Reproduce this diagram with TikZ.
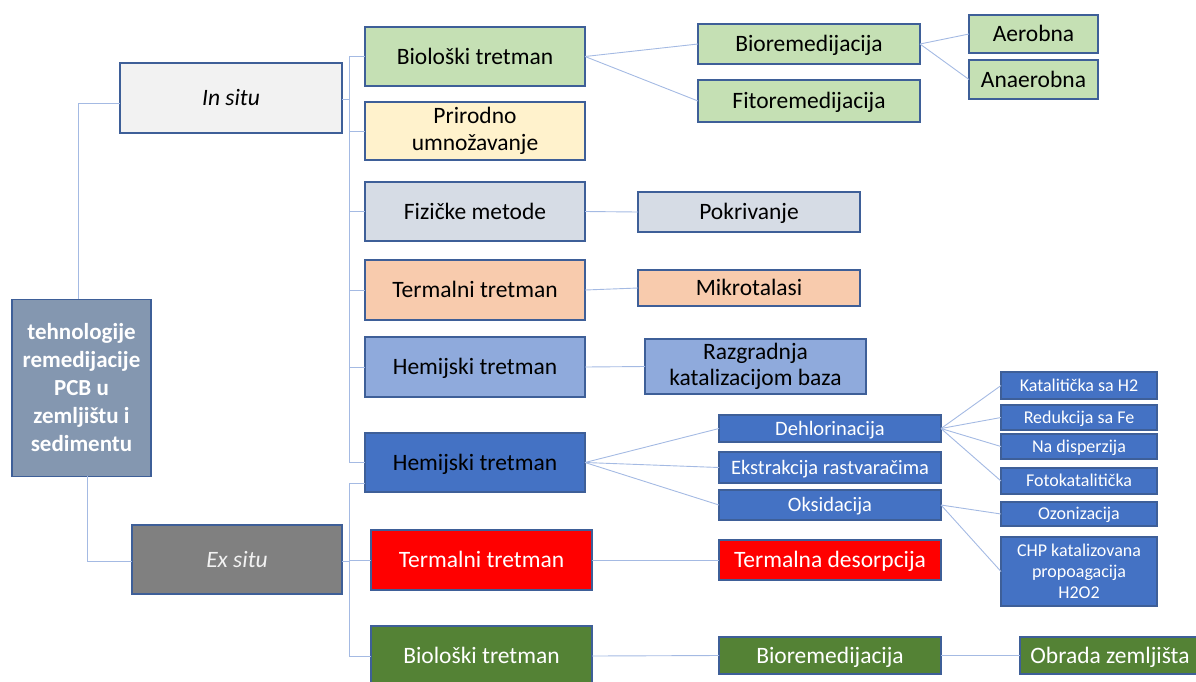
\documentclass[tikz,border=0pt]{standalone}
\usepackage{fontspec}
\setmainfont{Carlito}
\definecolor{rootfill}{HTML}{8497B0}
\definecolor{insitufill}{HTML}{F2F2F2}
\definecolor{exsitufill}{HTML}{808080}
\definecolor{lgreen}{HTML}{C5E0B4}
\definecolor{lyellow}{HTML}{FFF2CC}
\definecolor{greyblue}{HTML}{D6DCE5}
\definecolor{peach}{HTML}{F8CBAD}
\definecolor{lblue}{HTML}{8FAADC}
\definecolor{dblue}{HTML}{4472C4}
\definecolor{dgreen}{HTML}{548235}
\definecolor{bordercol}{HTML}{3E5F98}
\definecolor{linkcol}{HTML}{A4BAE3}
\tikzset{
  base/.style={draw=bordercol, line width=1.2pt, inner sep=0pt, outer sep=0pt, align=center,
              font=\fontsize{23.5}{27}\selectfont},
  box/.style={base, text height=15.5pt, text depth=0pt},
  multibox/.style={base, font=\fontsize{23.5}{26.5}\selectfont},
  midbox/.style={base, font=\fontsize{20.5}{24}\selectfont, text height=13.5pt, text depth=0pt},
  smallbox/.style={base, font=\fontsize{18}{21}\selectfont, text height=11.8pt, text depth=0pt, text=white, fill=dblue},
  smallmulti/.style={base, font=\fontsize{18}{21}\selectfont, text=white, fill=dblue},
  link/.style={draw=linkcol, line width=0.9pt},
}
\begin{document}
\begin{tikzpicture}[x=1pt,y=-1pt]
\useasboundingbox (0,0) rectangle (1196,681);
% level 0
\node[base, fill=rootfill, text=white, font=\bfseries\fontsize{23}{28}\selectfont, minimum width=139pt, minimum height=177pt] (root) at (81.5,388) {tehnologije\\remedijacije\\PCB u\\zemljištu i\\sedimentu};
% level 1
\node[box, fill=insitufill, font=\itshape\fontsize{23.5}{27}\selectfont, minimum width=222pt, minimum height=70pt] (insitu) at (231,98) {In situ};
\node[box, fill=exsitufill, text=insitufill, font=\itshape\fontsize{23.5}{27}\selectfont, minimum width=210pt, minimum height=69pt] (exsitu) at (237,559.5) {Ex situ};
% level 2
\node[box, fill=lgreen, minimum width=220pt, minimum height=59pt] (bio1) at (475,56.5) {Biološki tretman};
\node[multibox, fill=lyellow, minimum width=220pt, minimum height=58pt] (prir) at (475,131) {Prirodno\\umnožavanje};
\node[box, fill=greyblue, minimum width=220pt, minimum height=59pt] (fiz) at (475,211.5) {Fizičke metode};
\node[box, fill=peach, minimum width=220pt, minimum height=60pt] (term1) at (475,290) {Termalni tretman};
\node[box, fill=lblue, minimum width=220pt, minimum height=60pt] (hem1) at (475,367) {Hemijski tretman};
\node[box, fill=dblue, minimum width=220pt, minimum height=59pt] (hem2) at (475,462.5) {Hemijski tretman};
\node[box, fill=red, text=white, minimum width=221pt, minimum height=60pt] (term2) at (481.5,560) {Termalni tretman};
\node[box, fill=dgreen, text=white, minimum width=221pt, minimum height=60pt] (bio2) at (481.5,656) {Biološki tretman};
% level 3
\node[box, fill=lgreen, minimum width=222pt, minimum height=40pt] (biorem) at (809,44) {Bioremedijacija};
\node[box, fill=lgreen, minimum width=222pt, minimum height=42pt] (fitorem) at (809,101) {Fitoremedijacija};
\node[box, fill=lgreen, minimum width=129pt, minimum height=38pt] (aer) at (1033.5,34) {Aerobna};
\node[box, fill=lgreen, minimum width=129pt, minimum height=39pt] (anaer) at (1033.5,79.5) {Anaerobna};
\node[box, fill=greyblue, minimum width=222pt, minimum height=40pt] (pokr) at (749,212) {Pokrivanje};
\node[box, fill=peach, minimum width=222pt, minimum height=36pt] (mikro) at (749,288) {Mikrotalasi};
\node[multibox, fill=lblue, minimum width=221pt, minimum height=55pt] (razg) at (755.5,366.5) {Razgradnja\\katalizacijom baza};
\node[midbox, fill=dblue, text=white, minimum width=222pt, minimum height=27pt] (dehl) at (830,428.5) {Dehlorinacija};
\node[midbox, fill=dblue, text=white, minimum width=222pt, minimum height=31pt] (ekst) at (830,467.5) {Ekstrakcija rastvaračima};
\node[midbox, fill=dblue, text=white, minimum width=222pt, minimum height=30pt] (oksi) at (830,505) {Oksidacija};
\node[box, fill=red, text=white, minimum width=222pt, minimum height=40pt] (tdes) at (830,560) {Termalna desorpcija};
\node[box, fill=dgreen, text=white, minimum width=222pt, minimum height=37pt] (biorem2) at (830,655.5) {Bioremedijacija};
\node[box, fill=dgreen, text=white, minimum width=180pt, minimum height=37pt] (obrada) at (1110,655.5) {Obrada zemljišta};
% level 4
\node[smallbox, minimum width=156pt, minimum height=27pt] (kat) at (1079,385.5) {Katalitička sa H2};
\node[smallbox, minimum width=156pt, minimum height=25pt] (redfe) at (1079,417.5) {Redukcija sa Fe};
\node[smallbox, minimum width=156pt, minimum height=25pt] (nadisp) at (1079,446.5) {Na disperzija};
\node[smallbox, minimum width=156pt, minimum height=26pt] (foto) at (1079,481) {Fotokatalitička};
\node[smallbox, minimum width=156pt, minimum height=24pt] (ozon) at (1079,514) {Ozonizacija};
\node[smallmulti, minimum width=156pt, minimum height=69pt] (chp) at (1079,571.5) {CHP katalizovana\\propoagacija\\H2O2};
% connectors
\coordinate (rtop) at (78,299);
\coordinate (ib) at (349,99);
\coordinate (insituL) at (120,103);
\coordinate (rbot) at (87,476);
\coordinate (exsituL) at (132,561);
\coordinate (eb) at (349,561);
\coordinate (hem2x) at (365,483);
\begin{scope}[on background layer/.try]
\draw[link] (rtop) |- (insituL);
\draw[link] (rbot) |- (exsituL);
\draw[link] (insitu.east |- ib) -- (ib);
\draw[link] (ib) |- (bio1.west);
\draw[link] (ib) |- (prir.west);
\draw[link] (ib) |- (fiz.west);
\draw[link] (ib) |- (term1.west);
\draw[link] (ib) |- (hem1.west);
\draw[link] (ib) |- (hem2.west);
\draw[link] (exsitu.east |- eb) -- (eb);
\draw[link] (eb) |- (hem2x);
\draw[link] (eb) |- (term2.west);
\draw[link] (eb) |- (bio2.west);
\draw[link] (bio1.east) -- (biorem.west);
\draw[link] (bio1.east) -- (fitorem.west);
\draw[link] (biorem.east) -- (aer.west);
\draw[link] (biorem.east) -- (anaer.west);
\draw[link] (fiz.east) -- (pokr.west);
\draw[link] (term1.east) -- (mikro.west);
\draw[link] (hem1.east) -- (razg.west);
\draw[link] (hem2.east) -- (dehl.west);
\draw[link] (hem2.east) -- (ekst.west);
\draw[link] (hem2.east) -- (oksi.west);
\draw[link] (dehl.east) -- (kat.west);
\draw[link] (dehl.east) -- (redfe.west);
\draw[link] (dehl.east) -- (nadisp.west);
\draw[link] (dehl.east) -- (foto.west);
\draw[link] (oksi.east) -- (ozon.west);
\draw[link] (oksi.east) -- (chp.west);
\draw[link] (term2.east) -- (tdes.west);
\draw[link] (bio2.east) -- (biorem2.west);
\draw[link] (biorem2.east) -- (obrada.west);
\end{scope}
\end{tikzpicture}
\end{document}
